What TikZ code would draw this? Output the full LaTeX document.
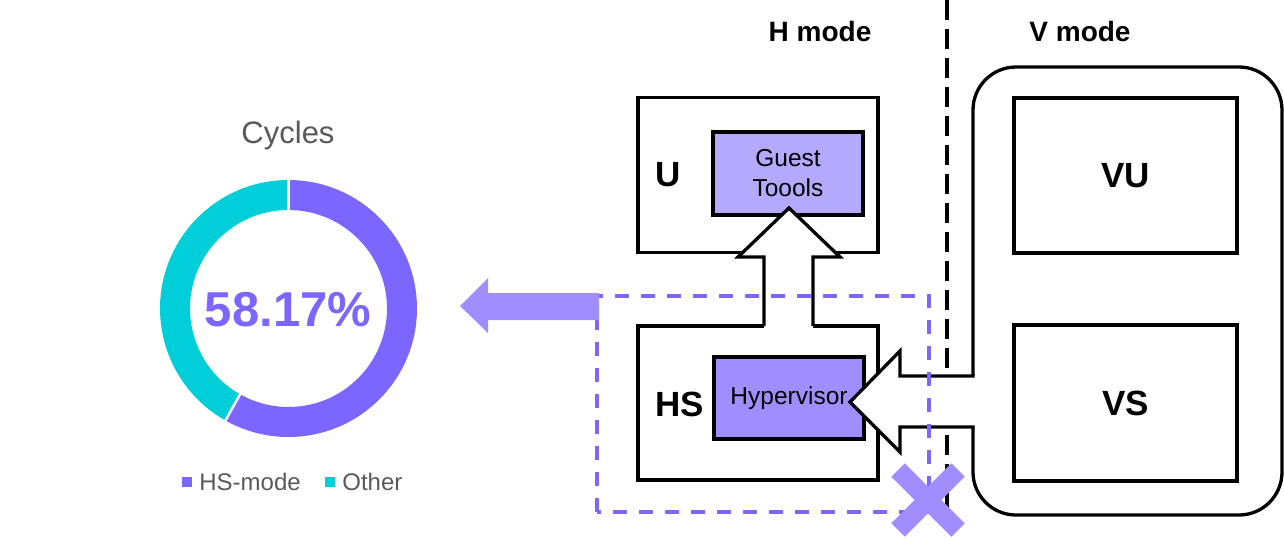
\documentclass[tikz,border=0pt]{standalone}
\usepackage{fontspec}
\setmainfont{Liberation Sans}
\usetikzlibrary{positioning}

\definecolor{hspurple}{RGB}{123,102,255}
\definecolor{lightpurple}{RGB}{160,141,255}
\definecolor{guestpurple}{RGB}{180,168,255}
\definecolor{othercyan}{RGB}{0,206,216}
\definecolor{labelgray}{RGB}{89,89,89}

\newcommand{\pxfont}[1]{\fontsize{#1}{1.22\dimexpr #1pt\relax}\selectfont}

\tikzset{
    modebox/.style={draw, line width=3.3pt, minimum width=240pt, minimum height=155pt,
        font=\pxfont{35}\bfseries},
    innerbox/.style={draw, line width=3.3pt, minimum width=150pt, minimum height=82pt,
        align=center, font=\pxfont{24.5}},
    modelabel/.style={font=\pxfont{35}\bfseries, anchor=west, inner sep=0pt},
    keybox/.style={minimum size=10pt, inner sep=0pt},
    keytext/.style={font=\pxfont{24}, text=labelgray, inner sep=0pt},
    shape line/.style={line width=3.3pt},
}

\begin{document}
\begin{tikzpicture}[x=1pt, y=1pt]
    \useasboundingbox (0,0) rectangle (1284,539);

    % donut chart
    \coordinate (ring) at (288.5,230.5);
    \draw[line width=30pt, hspurple] (ring) ++(90:113.5) arc[start angle=90, end angle=-119.4, radius=113.5pt];
    \draw[line width=30pt, othercyan] (ring) ++(-119.4:113.5) arc[start angle=-119.4, end angle=-270, radius=113.5pt];
    \draw[white, line width=2.5pt] (ring) ++(90:97) -- ++(90:33);
    \draw[white, line width=2.5pt] (ring) ++(-119.4:97) -- ++(-119.4:33);

    \node[font=\pxfont{31}, text=labelgray] (cycles) at (288,404) {Cycles};
    \node[font=\pxfont{49}\bfseries, text=hspurple] (share) at (288,229) {58.17\%};

    \node[keybox, fill=hspurple] (keyhs) at (187,57) {};
    \node[keytext, right=7pt of keyhs] (keyhstext) {HS-mode};
    \node[keybox, fill=othercyan] (keyother) at (330,57) {};
    \node[keytext, right=7pt of keyother] (keyothertext) {Other};

    % mode titles
    \node[font=\pxfont{28}\bfseries] (hmode) at (820,508) {H mode};
    \node[font=\pxfont{28}\bfseries] (vmode) at (1080,508) {V mode};

    % H side
    \node[modebox] (ubox) at (758,364) {};
    \node[innerbox, fill=guestpurple, minimum height=83pt] (guest) at (788,365.5) {Guest\\Toools};
    \node[modelabel] (ulabel) at (655,364) {U};

    \node[modebox, minimum height=154pt] (hsbox) at (758,136) {};
    \node[innerbox, fill=lightpurple] (hyp) at (789,141) {Hypervisor};
    \node[modelabel] (hslabel) at (655,135) {HS};

    % V side
    \node[draw, line width=3.3pt, rounded corners=43pt, minimum width=309pt, minimum height=448pt] (vbox) at (1127.5,248) {};
    \node[modebox, minimum width=223pt] (vu) at (1125.5,363.5) {VU};
    \node[modebox, minimum width=223pt, minimum height=156pt] (vs) at (1125.5,136) {VS};

    % divider
    \coordinate (divtop) at (947,539);
    \coordinate (divbot) at (947,24);
    \draw[line width=4pt, dash pattern=on 20pt off 9pt] (divtop) -- (divbot);

    % HS -> U
    \fill[white] (764,210) -- (764,282) -- (738,282) -- (789,331) -- (840,282) -- (813,282) -- (813,210) -- cycle;
    \draw[shape line] (764,213) -- (764,282) -- (738,282) -- (789,331) -- (840,282) -- (813,282) -- (813,213);

    % V -> HS
    \fill[white] (975,163) -- (900,163) -- (900,188) -- (850,137) -- (900,87) -- (900,112) -- (975,112) -- cycle;
    \draw[shape line] (974.6,163) -- (900,163) -- (900,188) -- (850,137) -- (900,87) -- (900,112) -- (974.6,112);

    % measured region
    \draw[hspurple, line width=3.3pt, dash pattern=on 14pt off 12pt] (597,27) rectangle (929,243);
    \fill[lightpurple] (599,246) -- (488,246) -- (488,261) -- (460,233) -- (488,206) -- (488,219) -- (599,219) -- cycle;

    % cross
    \draw[lightpurple, line width=19pt] (898,69) -- (958,9);
    \draw[lightpurple, line width=19pt] (898,9) -- (958,69);
\end{tikzpicture}
\end{document}
